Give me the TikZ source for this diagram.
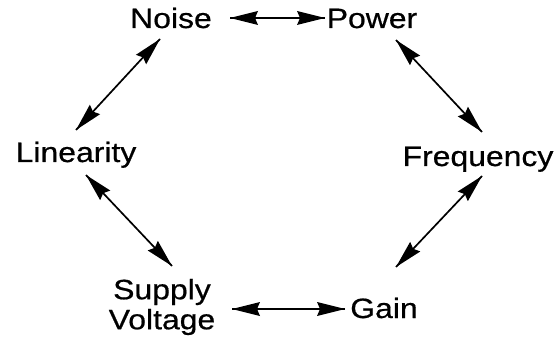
\documentclass[tikz,border=0pt]{standalone}
\usepackage{fontspec}
\setmainfont[FakeStretch=1.14,FakeBold=0.6]{Liberation Sans}
\usetikzlibrary{decorations.markings}
\tikzset{
  lbl/.style={inner sep=0pt,font=\fontsize{28}{30}\selectfont},
  dbl/.style={line width=1.7pt,postaction={decorate},
    decoration={markings,
      mark=at position 0 with {\fill (0pt,0pt) -- (28pt,-7pt) -- (25pt,0pt) -- (28pt,7pt) -- cycle;},
      mark=at position 1 with {\fill (0pt,0pt) -- (-28pt,-7pt) -- (-25pt,0pt) -- (-28pt,7pt) -- cycle;}}}}
\begin{document}
\begin{tikzpicture}
\useasboundingbox (0pt,0pt) rectangle (558pt,-345pt);
\node[lbl,anchor=base] (noise) at (171pt,-28pt) {Noise};
\node[lbl,anchor=base] (power) at (372pt,-28pt) {Power};
\node[lbl,anchor=base] (linearity) at (76pt,-162pt) {Linearity};
\node[lbl,anchor=base] (frequency) at (478pt,-166pt) {Frequency};
\node[lbl,align=center] (supply) at (162pt,-307pt) {Supply\\Voltage};
\node[lbl,anchor=base] (gain) at (384pt,-318pt) {Gain};
\draw[dbl] ([shift={(59pt,10pt)}]noise.base) -- ([shift={(-47pt,10pt)}]power.base);
\draw[dbl] ([shift={(-11pt,-11pt)}]noise.base) -- ([shift={(0pt,32pt)}]linearity.base);
\draw[dbl] ([shift={(10pt,-13pt)}]linearity.base) -- ([shift={(10pt,41pt)}]supply.center);
\draw[dbl] ([shift={(24pt,-12pt)}]power.base) -- ([shift={(4pt,34pt)}]frequency.base);
\draw[dbl] ([shift={(4pt,-10pt)}]frequency.base) -- ([shift={(12pt,51pt)}]gain.base);
\draw[dbl] ([shift={(70pt,-2pt)}]supply.center) -- ([shift={(-39pt,9pt)}]gain.base);
\end{tikzpicture}
\end{document}
